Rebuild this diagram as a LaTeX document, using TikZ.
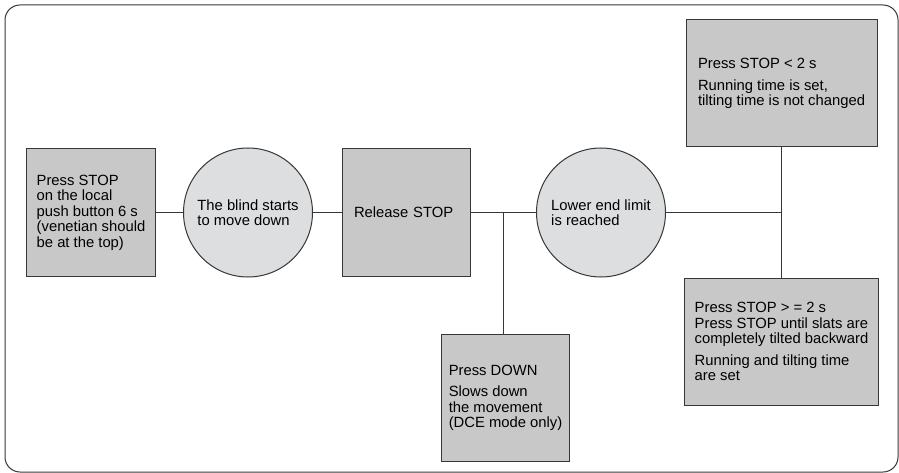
\documentclass[tikz,border=0pt]{standalone}
\usepackage{fontspec}
\setmainfont{Liberation Sans}
\usetikzlibrary{positioning}
\definecolor{boxgray}{RGB}{200,200,201}
\definecolor{circlegray}{RGB}{221,222,223}
\definecolor{linegray}{RGB}{55,55,55}

\begin{document}
\begin{tikzpicture}[x=1pt, y=-1pt, node distance=157pt, every node/.style={draw=linegray, line width=1pt, font=\fontsize{14.8}{15.5}\selectfont}, align=left,
	box/.style={fill=boxgray, minimum width=128pt, minimum height=127pt, inner xsep=10pt},
	widebox/.style={box, minimum width=191pt},
	circ/.style={circle, fill=circlegray, minimum size=129pt, inner sep=0pt},
	link/.style={draw=linegray, line width=1pt}]
	\useasboundingbox (0,0) rectangle (899,473);
	\draw[link, rounded corners=15pt] (5,5) rectangle (898,472);
	% Specification of nodes (position, etc.)
	\node (PressStop)	[box] at (91,212.5)										{Press STOP\\on the local\\push button 6 s\\(venetian should\\be at the top)};
	\node (BlindMoves)	[circ, right of=PressStop]								{The blind starts\\to move down};
	\node (ReleaseStop)	[box, right of=BlindMoves, xshift=1pt, text width=104pt, inner xsep=12pt]	{Release STOP};
	\node (EndLimit)	[circ, right of=ReleaseStop, xshift=38pt]				{Lower end limit\\is reached};
	\node (PressDown)	[box, below of=ReleaseStop, xshift=99.5pt, node distance=185.5pt, inner xsep=3pt]	{Press DOWN\\[6pt]Slows down\\the movement\\(DCE mode only)};
	\node (ShortPress)	[widebox] at (781.5,83.5)								{Press STOP < 2 s\\[6pt]Running time is set,\\tilting time is not changed};
	\node (LongPress)	[widebox, below of=ShortPress, node distance=258pt]	{Press STOP > = 2 s\\Press STOP until slats are\\completely tilted backward\\[6pt]Running and tilting time\\are set};
	\coordinate (Split) at (503,212.5);
	\draw[link]	(PressStop) -- (BlindMoves);
	\draw[link]	(BlindMoves) -- (ReleaseStop);
	\draw[link]	(ReleaseStop) -- (EndLimit);
	\draw[link]	(Split) -- (Split |- PressDown.north);
	\draw[link]	(EndLimit) -- (EndLimit -| ShortPress.south);
	\draw[link]	(ShortPress) -- (LongPress);
\end{tikzpicture}
\end{document}
